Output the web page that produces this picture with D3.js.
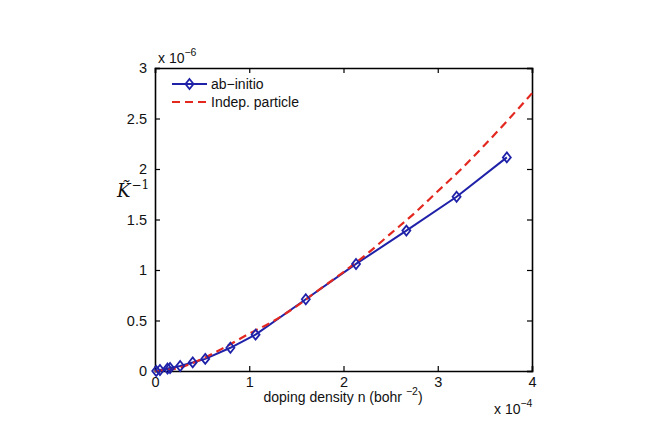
<!DOCTYPE html>
<html>
<head>
<meta charset="utf-8">
<script src="https://cdn.jsdelivr.net/npm/d3@7"></script>
<style>
  body { margin: 0; background: #fff; }
  svg { display: block; }
  text { font-family: "Liberation Sans", Arial, sans-serif; fill: #111; }
</style>
</head>
<body>
<div id="chart"></div>
<script>
// doping density n in units of 1e-4 bohr^-2, K^-1 in units of 1e-6
var abInitioX = [0.013, 0.053, 0.133, 0.16, 0.267, 0.4, 0.533, 0.8, 1.067, 1.6, 2.133, 2.667, 3.2, 3.733]
var abInitioY = [0.0, 0.01, 0.025, 0.03, 0.05, 0.085, 0.12, 0.23, 0.36, 0.71, 1.06, 1.39, 1.725, 2.115]
var indepX = [0, 0.25, 0.5, 0.75, 1.0, 1.25, 1.5, 1.75, 2.0, 2.25, 2.5, 2.75, 3.0, 3.25, 3.5, 3.75, 4.0]
var indepY = [0, 0.03, 0.12, 0.24, 0.37, 0.49, 0.64, 0.81, 0.98, 1.16, 1.36, 1.56, 1.78, 2.0, 2.24, 2.49, 2.75]
var xTicks = [0, 1, 2, 3, 4]
var yTicks = [0, 0.5, 1, 1.5, 2, 2.5, 3]
var legendLabels = ['ab\u2212initio', 'Indep. particle']

var width = 649, height = 429
var margin = {left: 155, right: 117, top: 68, bottom: 58}
var blue = '#1f22a8', red = '#e3281f'

var svg = d3.select('#chart').append('svg')
  .attr('width', width)
  .attr('height', height)

var x = d3.scaleLinear().domain([0, 4]).range([margin.left, width - margin.right])
var y = d3.scaleLinear().domain([0, 3]).range([height - margin.bottom, margin.top])

var fmt = function(d) { return String(d) }

// axes, MATLAB style ticks pointing inward
svg.append('g')
  .attr('transform', 'translate(0,' + y(0) + ')')
  .call(d3.axisBottom(x).tickValues(xTicks).tickSize(-5).tickPadding(6).tickFormat(fmt))
svg.append('g')
  .attr('transform', 'translate(0,' + y(3) + ')')
  .call(d3.axisTop(x).tickValues(xTicks).tickSize(-5).tickFormat(''))
svg.append('g')
  .attr('transform', 'translate(' + x(0) + ',0)')
  .call(d3.axisLeft(y).tickValues(yTicks).tickSize(-5).tickPadding(8).tickFormat(fmt))
svg.append('g')
  .attr('transform', 'translate(' + x(4) + ',0)')
  .call(d3.axisRight(y).tickValues(yTicks).tickSize(-5).tickFormat(''))

svg.selectAll('.domain').attr('stroke', '#000').attr('stroke-width', 1.6)
svg.selectAll('.tick line').attr('stroke', '#000').attr('stroke-width', 1.2)
svg.selectAll('.tick text').style('font-size', '14.5px').style('fill', '#111')
  .style('font-family', '"Liberation Sans", Arial, sans-serif')

// series
var indepData = indepX.map(function(v, i) { return [v, indepY[i]] })
var abData = abInitioX.map(function(v, i) { return [v, abInitioY[i]] })

var plot = svg.append('g')

plot.append('path')
  .datum(abData)
  .attr('fill', 'none')
  .attr('stroke', blue)
  .attr('stroke-width', 2)
  .attr('d', d3.line().x(function(d) { return x(d[0]) }).y(function(d) { return y(d[1]) }))

plot.append('path')
  .datum(indepData)
  .attr('fill', 'none')
  .attr('stroke', red)
  .attr('stroke-width', 2.2)
  .attr('stroke-dasharray', '8,5')
  .attr('d', d3.line().curve(d3.curveMonotoneX).x(function(d) { return x(d[0]) }).y(function(d) { return y(d[1]) }))

var diamond = function(cx, cy) {
  return 'M' + cx + ',' + (cy - 5) + 'L' + (cx + 4) + ',' + cy + 'L' + cx + ',' + (cy + 5) + 'L' + (cx - 4) + ',' + cy + 'Z'
}

plot.selectAll('.marker')
  .data(abData)
  .enter().append('path')
  .attr('class', 'marker')
  .attr('d', function(d) { return diamond(x(d[0]), y(d[1])) })
  .attr('fill', 'none')
  .attr('stroke', blue)
  .attr('stroke-width', 1.8)

// legend
var lg = svg.append('g').attr('transform', 'translate(172,84)')
lg.append('line').attr('x1', 0).attr('x2', 35).attr('y1', 0).attr('y2', 0)
  .attr('stroke', blue).attr('stroke-width', 2)
lg.append('path').attr('d', diamond(17.5, 0)).attr('fill', 'none')
  .attr('stroke', blue).attr('stroke-width', 1.8)
lg.append('line').attr('x1', 0).attr('x2', 35).attr('y1', 18).attr('y2', 18)
  .attr('stroke', red).attr('stroke-width', 2.2).attr('stroke-dasharray', '8,5')
lg.selectAll('.lbl')
  .data(legendLabels)
  .enter().append('text')
  .attr('x', 39)
  .attr('y', function(d, i) { return i * 18 })
  .attr('dy', '0.35em')
  .style('font-size', '14px')
  .text(function(d) { return d })

// exponent labels
var yExp = svg.append('text').attr('x', 158).attr('y', 63).style('font-size', '14px')
yExp.append('tspan').text('x 10')
yExp.append('tspan').attr('dy', -7).style('font-size', '10.5px').text('\u22126')

var xExp = svg.append('text').attr('x', 494).attr('y', 414).style('font-size', '14px')
xExp.append('tspan').text('x 10')
xExp.append('tspan').attr('dy', -7).style('font-size', '10.5px').text('\u22124')

// axis titles
var xt = svg.append('text').attr('x', 343).attr('y', 402).attr('text-anchor', 'middle').style('font-size', '14px')
xt.append('tspan').text('doping density n (bohr ')
xt.append('tspan').attr('dy', -7).style('font-size', '10.5px').text('\u22122')
xt.append('tspan').attr('dy', 7).text(')')

var yt = svg.append('text').attr('x', 117).attr('y', 197)
  .style('font-family', '"DejaVu Serif", "Liberation Serif", serif').style('font-size', '18px')
yt.append('tspan').style('font-style', 'italic').text('K\u0303')
yt.append('tspan').attr('dx', 1).attr('dy', -8).style('font-size', '12px').text('\u22121')
</script>
</body>
</html>
